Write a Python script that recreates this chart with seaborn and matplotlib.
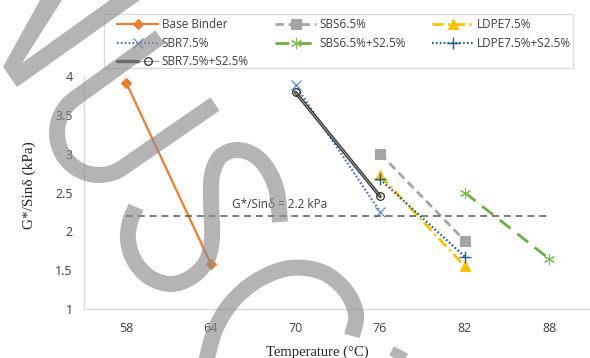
import numpy as np
import matplotlib
matplotlib.use("Agg")
import matplotlib.pyplot as plt
from matplotlib.path import Path
from matplotlib.patches import PathPatch, Polygon, Rectangle
from matplotlib.legend_handler import HandlerTuple
import seaborn as sns

# Test temperatures (°C) and G*/sin(delta) values (kPa)
temps = [58, 64, 70, 76, 82, 88]
ytick_vals = [1, 1.5, 2, 2.5, 3, 3.5, 4]
ytick_labels = ["1", "1.5", "2", "2.5", "3", "3.5", "4"]

base_t = [58, 64]
base_g = [3.91, 1.58]
sbr_t = [70, 76]
sbr_g = [3.88, 2.25]
sbr_s_t = [70, 76]
sbr_s_g = [3.79, 2.45]
sbs_t = [76, 82]
sbs_g = [3.00, 1.88]
sbs_s_t = [82, 88]
sbs_s_g = [2.50, 1.645]
ldpe_t = [76, 82]
ldpe_g = [2.72, 1.55]
ldpe_s_t = [76, 82]
ldpe_s_g = [2.67, 1.675]

limit_t = [58, 88]
limit_g = [2.2, 2.2]
limit_text = "G*/Sinδ = 2.2 kPa"

sns.set_theme(style="white")
plt.rcParams["font.family"] = ["Open Sans", "DejaVu Sans"]
plt.rcParams["lines.scale_dashes"] = False

W, H = 590, 358
fig = plt.figure(figsize=(W / 100, H / 100), dpi=100)
ax = fig.add_axes([84 / W, 1 - 309 / H, 507.6 / W, 233 / H])

series = [
    ("Base Binder", base_t, base_g,
     dict(color="#ED7D31", lw=1.6, linestyle="-", marker="D", ms=5.5,
          mfc="#ED7D31", mec="#ED7D31", mew=0.8)),
    ("SBR7.5%", sbr_t, sbr_g,
     dict(color="#4472C4", lw=1.6, linestyle=(0, (1.2, 1.6)), marker="x", ms=7.5,
          mfc="none", mec="#5B8ED6", mew=0.9)),
    ("SBR7.5%+S2.5%", sbr_s_t, sbr_s_g,
     dict(color="#9a9a9a", lw=0.8, linestyle="-", marker="o", ms=5.5,
          mfc="none", mec="#303030", mew=0.9)),
    ("SBS6.5%", sbs_t, sbs_g,
     dict(color="#A5A5A5", lw=2.0, linestyle=(0, (6, 3.5)), marker="s", ms=7,
          mfc="#A5A5A5", mec="#A5A5A5", mew=0.8)),
    ("SBS6.5%+S2.5%", sbs_s_t, sbs_s_g,
     dict(color="#70AD47", lw=2.0, linestyle=(0, (10, 6)), marker=(6, 2, 0), ms=8,
          mfc="none", mec="#7CBF52", mew=0.8)),
    ("LDPE7.5%", ldpe_t, ldpe_g,
     dict(color="#FFC000", lw=2.0, linestyle=(0, (8, 3, 1.5, 3)), marker="^", ms=7.5,
          mfc="#FFC000", mec="#FFC000", mew=0.8)),
    ("LDPE7.5%+S2.5%", ldpe_s_t, ldpe_s_g,
     dict(color="#255E91", lw=1.6, linestyle=(0, (1.2, 1.6)), marker="+", ms=8,
          mfc="none", mec="#255E91", mew=1.0)),
]

handles, labels = [], []
for name, t, g, style in series:
    if name == "SBR7.5%+S2.5%":
        # dark outer stroke underneath the lighter centre line
        sns.lineplot(x=t, y=g, ax=ax, color="#303030", lw=2.4, legend=False)
        outer = ax.lines[-1]
        sns.lineplot(x=t, y=g, ax=ax, label=name, **style)
        handles.append((outer, ax.lines[-1]))
    else:
        sns.lineplot(x=t, y=g, ax=ax, label=name, **style)
        handles.append(ax.lines[-1])
    labels.append(name)

sns.lineplot(x=limit_t, y=limit_g, ax=ax, color="#595959", lw=1.1,
             linestyle=(0, (5, 3.5)), legend=False)
ax.text(68.9, 2.35, limit_text, ha="center", va="center", fontsize=8.5,
        color="#404040")

ax.set_xlim(55, 91)
ax.set_ylim(1, 4)
ax.set_xticks(temps)
ax.set_xticklabels([str(v) for v in temps])
ax.set_yticks(ytick_vals)
ax.set_yticklabels(ytick_labels)
ax.tick_params(length=0, labelsize=9, labelcolor="#404040")
ax.tick_params(axis="x", pad=9)
ax.tick_params(axis="y", pad=8)
for side in ("top", "right"):
    ax.spines[side].set_visible(False)
for side in ("left", "bottom"):
    ax.spines[side].set_color("#d9d9d9")
    ax.spines[side].set_linewidth(1.0)
ax.grid(False)

ax.set_xlabel("Temperature (°C)", family="Liberation Serif", fontsize=10.5,
              color="#262626")
ax.set_ylabel("G*/Sinδ (kPa)", family="Liberation Serif", fontsize=11,
              color="#262626")
ax.xaxis.set_label_coords(0.459, -0.158)
ax.yaxis.set_label_coords(-0.095, 0.532)

ax.legend(handles, labels, ncol=3, frameon=False, loc="upper left",
          bbox_to_anchor=(117 / W, 1 - 18.5 / H), bbox_transform=fig.transFigure,
          handler_map={tuple: HandlerTuple(ndivide=None, pad=0)},
          fontsize=8.5, handlelength=3.5, handletextpad=0.3, columnspacing=2.2,
          labelspacing=0.45, borderpad=0, borderaxespad=0, labelcolor="#404040")
fig.add_artist(Rectangle((104 / W, 1 - 68 / H), (573 - 104) / W, 54 / H,
                         transform=fig.transFigure, fill=False,
                         edgecolor="#d9d9d9", lw=0.9))

# Watermark strokes drawn on top in pixel space
ov = fig.add_axes([0, 0, 1, 1], zorder=10)
ov.set_xlim(0, W)
ov.set_ylim(H, 0)
ov.axis("off")
ov.patch.set_alpha(0)

wm_color = "#8c8c8c"
wm_alpha = 0.65
wm_lw = 11.5


def smooth_path(pts):
    pts = np.asarray(pts, float)
    ext = np.vstack([pts[0], pts, pts[-1]])
    verts = [pts[0]]
    codes = [Path.MOVETO]
    for i in range(1, len(ext) - 2):
        p0, p1, p2, p3 = ext[i - 1], ext[i], ext[i + 1], ext[i + 2]
        verts += [p1 + (p2 - p0) / 6, p2 - (p3 - p1) / 6, p2]
        codes += [Path.CURVE4] * 3
    return Path(verts, codes)


def stroke(path):
    ov.add_patch(PathPatch(path, fill=False, edgecolor=wm_color, alpha=wm_alpha,
                           lw=wm_lw, capstyle="butt", joinstyle="round"))


ov.add_patch(Polygon([(40, 0), (62, 0), (22, 63), (110, 0), (140, 0), (17, 87), (3, 67)],
                     closed=True, facecolor=wm_color, edgecolor="none", alpha=wm_alpha))

cx, cy, r = 99, 133, 42
ang = np.radians(np.linspace(235.4, 55.4, 40))
arc = np.column_stack([cx + r * np.cos(ang), cy + r * np.sin(ang)])
u_pts = np.vstack([[(160, 37)], arc, [(215, 104)]])
stroke(Path(u_pts))

stroke(smooth_path([(280, 222), (277, 192), (268, 170), (254, 155), (236, 150),
                    (220, 157), (212, 175), (211, 200), (212, 238), (206, 262),
                    (190, 278), (170, 284), (149, 277), (134, 260), (128, 240),
                    (130, 222), (136, 207)]))
stroke(smooth_path([(206, 362), (215, 330), (232, 302), (258, 280), (290, 268),
                    (322, 272), (345, 290), (356, 314), (352, 336)]))
stroke(Path([(401, 350), (392, 367)]))

fig.savefig("out.png", dpi=100)
